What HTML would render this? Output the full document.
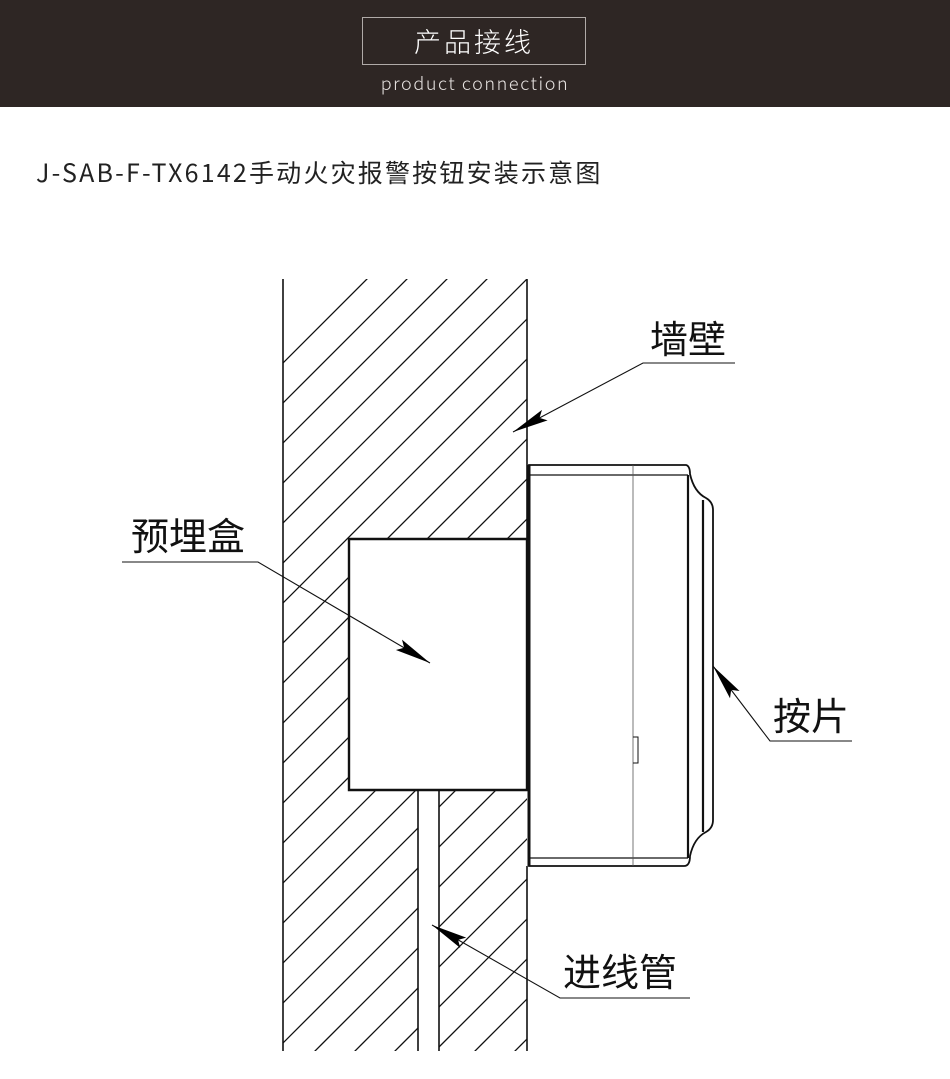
<!DOCTYPE html>
<html><head><meta charset="utf-8"><style>
html,body{margin:0;padding:0;background:#fff;}
body{width:950px;height:1079px;position:relative;overflow:hidden;font-family:"Liberation Sans","Noto Sans CJK SC",sans-serif;}
.hdr{position:absolute;left:0;top:0;width:950px;height:107px;background:#2e2624;}
.box{position:absolute;left:362px;top:17px;width:222px;height:46px;border:1px solid #b0aaa8;color:#fff;font-family:"Noto Sans CJK SC",sans-serif;font-size:27px;text-align:center;line-height:46px;letter-spacing:3px;font-weight:300;}
.sub{position:absolute;left:0;width:950px;top:70px;text-align:center;color:#e8e4e2;font-family:"Noto Sans CJK SC",sans-serif;font-weight:300;font-size:18px;letter-spacing:1.6px;}
.title{position:absolute;left:36px;top:154px;font-family:"Noto Sans CJK SC",sans-serif;font-size:25px;color:#222;letter-spacing:2.2px;font-weight:400;}
svg{position:absolute;left:0;top:0;}
</style></head><body>
<div class="hdr"></div>
<div class="box">产品接线</div>
<div class="sub">product connection</div>
<div class="title">J-SAB-F-TX6142手动火灾报警按钮安装示意图</div>
<svg width="950" height="1079" viewBox="0 0 950 1079">
<defs>
<clipPath id="hc"><path clip-rule="evenodd" fill-rule="evenodd" d="M283 279H527V1051H283Z M349 539H527V790H439V1051H418V790H349Z"/></clipPath>
<marker id="ah" markerUnits="userSpaceOnUse" markerWidth="40" markerHeight="16" refX="36" refY="8" orient="auto"><path d="M0 2 L36 8 L0 14 L6 8Z" fill="#000"/></marker>
</defs>
<g clip-path="url(#hc)" stroke="#111" stroke-width="1.3">
<path d="M-400 1046L646 0M-360 1046L686 0M-320 1046L726 0M-280 1046L766 0M-240 1046L806 0M-200 1046L846 0M-160 1046L886 0M-120 1046L926 0M-80 1046L966 0M-40 1046L1006 0M0 1046L1046 0M40 1046L1086 0M80 1046L1126 0M120 1046L1166 0M160 1046L1206 0M200 1046L1246 0M240 1046L1286 0M280 1046L1326 0M320 1046L1366 0M360 1046L1406 0M400 1046L1446 0M440 1046L1486 0M480 1046L1526 0M520 1046L1566 0M560 1046L1606 0M600 1046L1646 0M240 1086L1286 40M280 1086L1326 40M320 1086L1366 40M360 1086L1406 40M400 1086L1446 40M440 1086L1486 40M480 1086L1526 40M520 1086L1566 40M560 1086L1606 40" />
</g>
<g fill="none" stroke="#111" stroke-width="1.6">
<path d="M283 279V1051"/>
<path d="M527 279V539" />
<path d="M527 866V1051"/>
<path d="M349 539H527V790H349Z" stroke-width="2.4"/>
<path d="M418 790V1051M439 790V1051"/>
<path d="M529 465H686Q690 466 690 474Q694 492 706 498Q713 502 713 510V820Q713 828 706 832Q694 838 690 856Q690 866 684 866H529Z" stroke-width="1.8"/>
<path d="M529 465V866" stroke-width="3"/>
<path d="M529 475H688M529 858H688" stroke-width="1.2"/>
<path d="M688 475V858" stroke-width="2.2"/>
<path d="M703 500V832" stroke-width="2.2"/>
<path d="M633 465V866" stroke-width="0.8" stroke="#555"/>
<path d="M633 737H638V763H633" stroke-width="1"/>
</g>
<g fill="none" stroke="#111" stroke-width="1.1">
<path d="M735 363H643L513 432" marker-end="url(#ah)"/>
<path d="M122 562H258L430 663" marker-end="url(#ah)"/>
<path d="M852 741H770L713 666" marker-end="url(#ah)"/>
<path d="M690 998H560L432 925" marker-end="url(#ah)"/>
</g>
<g font-family="'Noto Sans CJK SC',sans-serif" font-size="38" font-weight="400" fill="#111">
<text x="650" y="353">墙壁</text>
<text x="131" y="550">预埋盒</text>
<text x="773" y="730">按片</text>
<text x="563" y="986">进线管</text>
</g>
</svg>
</body></html>
